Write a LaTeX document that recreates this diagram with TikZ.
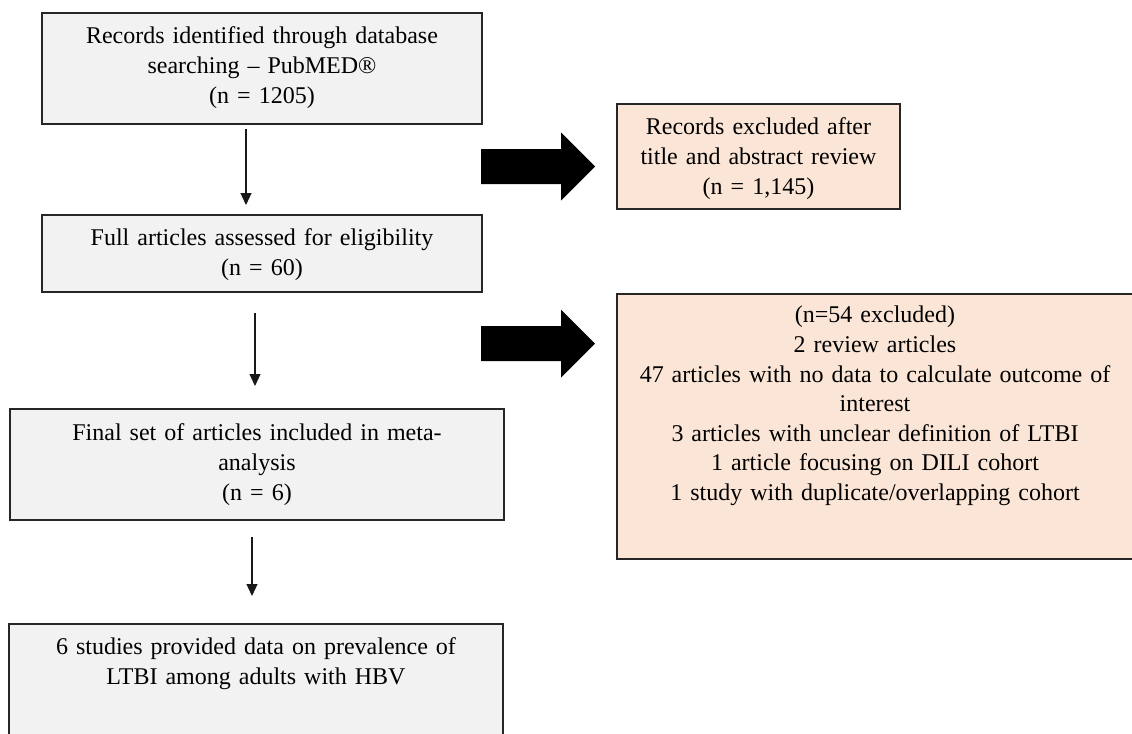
\documentclass[tikz,border=0pt]{standalone}
\usepackage{fontspec}
\setmainfont{Liberation Serif}
\usetikzlibrary{arrows.meta}
\definecolor{boxgray}{HTML}{F2F2F2}
\definecolor{boxpeach}{HTML}{FBE5D6}
\tikzset{
  stage/.style={draw=black!85, line width=0.9pt, fill=boxgray, anchor=north,
    align=center, inner sep=0pt, font=\fontsize{12}{14.8}\selectfont},
  excluded/.style={stage, fill=boxpeach},
  flow/.style={-{Triangle[length=6pt,width=5.5pt]}, line width=0.6pt, black!90},
}

\begin{document}
\begin{tikzpicture}[x=0.5pt, y=-0.5pt]
  \useasboundingbox (0,0) rectangle (1132,734);
  \fill[white] (0,0) rectangle (1132,734);
  \clip (0,0) rectangle (1132,734);

  % main column
  \node[stage, text width=220pt, text height=15.5pt, text depth=40pt] (search) at (262,12)
    {Records identified through database\\searching – PubMED®\\(n = 1205)};
  \node[stage, text width=220pt, text height=15.5pt, text depth=23pt] (full) at (262,214)
    {Full articles assessed for eligibility\\(n = 60)};
  \node[stage, text width=247pt, text height=16pt, text depth=39.5pt] (final) at (257,408)
    {Final set of articles included in meta-\\analysis\\(n = 6)};
  \node[stage, text width=247pt, text height=15.5pt, text depth=60pt] (studies) at (256,623)
    {6 studies provided data on prevalence of\\LTBI among adults with HBV};

  % exclusions
  \node[excluded, text width=141.5pt, text height=15.5pt, text depth=37pt] (excl1) at (758.5,103)
    {Records excluded after\\title and abstract review\\(n = 1,145)};
  \node[excluded, text width=258pt, text height=14.5pt, text depth=118pt] (excl2) at (875,293)
    {(n=54 excluded)\\2 review articles\\47 articles with no data to calculate outcome of\\interest\\
     3 articles with unclear definition of LTBI\\1 article focusing on DILI cohort\\
     1 study with duplicate/overlapping cohort};

  % thin arrows
  \coordinate (a1) at ([xshift=-8pt]search.south);
  \coordinate (a2) at ([xshift=-3.5pt]full.south);
  \coordinate (a3) at ([xshift=-2.5pt]final.south);
  \draw[flow, shorten <=2pt, shorten >=4.5pt] (a1) -- (a1 |- full.north);
  \draw[flow, shorten <=10pt, shorten >=11pt] (a2) -- (a2 |- final.north);
  \draw[flow, shorten <=8pt, shorten >=13.5pt] (a3) -- (a3 |- studies.north);

  % block arrows
  \foreach \yc in {166.5,343.5}
    \fill[black] (481,{\yc-17.5}) -- (561,{\yc-17.5}) -- (561,{\yc-34}) -- (595,\yc)
      -- (561,{\yc+34}) -- (561,{\yc+17.5}) -- (481,{\yc+17.5}) -- cycle;
\end{tikzpicture}
\end{document}
